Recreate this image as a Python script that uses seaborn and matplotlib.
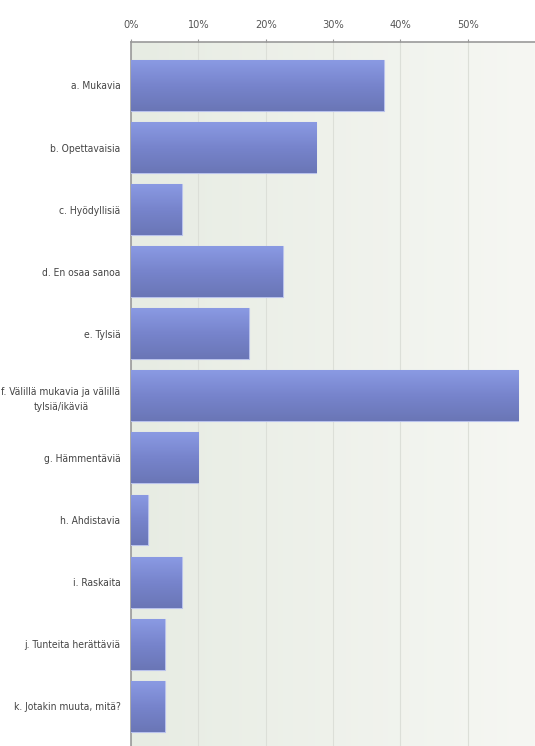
import numpy as np
import pandas as pd
import matplotlib
matplotlib.use("Agg")
import matplotlib.pyplot as plt
import seaborn as sns
from matplotlib.colors import LinearSegmentedColormap
from matplotlib import font_manager

categories = [
    "a. Mukavia",
    "b. Opettavaisia",
    "c. Hyödyllisiä",
    "d. En osaa sanoa",
    "e. Tylsiä",
    "f. Välillä mukavia ja välillä\ntylsiä/ikäviä",
    "g. Hämmentäviä",
    "h. Ahdistavia",
    "i. Raskaita",
    "j. Tunteita herättäviä",
    "k. Jotakin muuta, mitä?",
]
percent = [37.5, 27.5, 7.5, 22.5, 17.5, 57.5, 10.0, 2.5, 7.5, 5.0, 5.0]
tick_values = [0, 10, 20, 30, 40, 50]
tick_labels = ["0%", "10%", "20%", "30%", "40%", "50%"]

df = pd.DataFrame({"category": categories, "percent": percent})

sns.set_theme(style="white")

# pick a condensed face when one is installed
cond = None
for f in font_manager.fontManager.ttflist:
    if "Condensed" in f.fname or "Narrow" in f.fname:
        if "Bold" not in f.fname and "Oblique" not in f.fname and "Italic" not in f.fname:
            cond = f.fname
            break
if cond:
    label_font = font_manager.FontProperties(fname=cond, size=7.4)
    tick_font = font_manager.FontProperties(fname=cond, size=7.8)
else:
    label_font = font_manager.FontProperties(family="DejaVu Sans", size=7)
    tick_font = font_manager.FontProperties(family="DejaVu Sans", size=7)

fig = plt.figure(figsize=(5.35, 7.46), dpi=100)
ax = fig.add_axes([131 / 535, 0.0, 1 - 131 / 535, 1 - 42 / 746])

# soft horizontal gradient behind the plot area
bg = LinearSegmentedColormap.from_list("bg", ["#e7ece3", "#f6f7f3"])
ax.imshow(np.linspace(0, 1, 256).reshape(1, -1), cmap=bg, aspect="auto",
          extent=[0, 1, 0, 1], transform=ax.transAxes, zorder=0)

sns.barplot(data=df, x="percent", y="category", orient="h", color="#7d8bd6",
            width=0.82, ax=ax, zorder=3, edgecolor="#b9c2ec", linewidth=0.8)

# vertical shading on every bar
bar_cmap = LinearSegmentedColormap.from_list("bar", ["#8a9ae3", "#7784cc", "#6a76b6"])
grad = np.linspace(0, 1, 128).reshape(-1, 1)
for p in ax.patches:
    x0, y0 = p.get_x(), p.get_y()
    w, h = p.get_width(), p.get_height()
    im = ax.imshow(grad, cmap=bar_cmap, aspect="auto",
                   extent=[x0, x0 + w, y0 + h, y0], zorder=4)
    im.set_clip_path(p)

ax.set_xlim(0, 60)
ax.set_ylim(10.64, -0.70)
ax.set_xticks(tick_values)
ax.set_xticklabels(tick_labels)
ax.xaxis.tick_top()
ax.grid(axis="x", color="#dcdfd8", linewidth=0.8, zorder=1)
ax.set_axisbelow(True)
ax.set_xlabel("")
ax.set_ylabel("")

for side in ["right", "bottom"]:
    ax.spines[side].set_visible(False)
for side in ["top", "left"]:
    ax.spines[side].set_color("#9a9a9a")
    ax.spines[side].set_linewidth(1.2)

ax.tick_params(axis="x", which="both", top=True, length=2.5, width=0.8,
               color="#9a9a9a", labelcolor="#555555", pad=6)
ax.tick_params(axis="y", which="both", left=False, labelcolor="#444444", pad=1.5)
for lab in ax.get_xticklabels():
    lab.set_fontproperties(tick_font)
for lab in ax.get_yticklabels():
    lab.set_fontproperties(label_font)
    lab.set_multialignment("center")
    lab.set_linespacing(1.7)

fig.savefig("out.png", dpi=100)
